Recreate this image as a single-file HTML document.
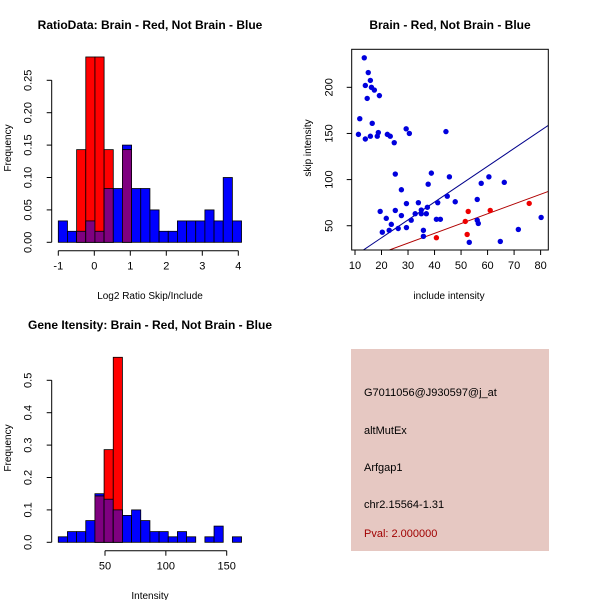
<!DOCTYPE html>
<html><head><meta charset="utf-8">
<style>
html,body{margin:0;padding:0;background:#fff;}
svg{display:block;font-family:"Liberation Sans",Arial,sans-serif;}
</style></head>
<body>
<svg id="chart" width="600" height="600" viewBox="0 0 600 600" xmlns="http://www.w3.org/2000/svg">
<rect x="0" y="0" width="600" height="600" fill="#fff"/>
<g id="p1"></g>
<g id="p2"></g>
<g id="p3"></g>
<g id="p4">
  <rect x="351" y="349" width="198" height="202" fill="#e6c8c2"/>
  <text x="364" y="396" font-size="11" fill="#000">G7011056@J930597@j_at</text>
  <text x="364" y="434" font-size="11" fill="#000">altMutEx</text>
  <text x="364" y="471" font-size="11" fill="#000">Arfgap1</text>
  <text x="364" y="508" font-size="11" fill="#000">chr2.15564-1.31</text>
  <text x="364" y="537" font-size="11" fill="#a00000">Pval: 2.000000</text>
</g>
</svg>
<script>
// ---- Panel 1 data: RatioData histogram ----
const ratioBinStart = -1;
const ratioBinWidth = 0.2545;
const ratioBlue = [0.033,0.017,0.017,0.033,0.017,0.083,0.083,0.15,0.083,0.083,0.05,0.017,0.017,0.033,0.033,0.033,0.05,0.033,0.1,0.033];
const ratioRed  = [0,0,0.143,0.286,0.286,0.143,0,0.143,0,0,0,0,0,0,0,0,0,0,0,0];
const ratioXTicks = [-1,0,1,2,3,4];
const ratioYTicks = ["0.00","0.05","0.10","0.15","0.20","0.25"];

// ---- Panel 2 data: scatter ----
const blueInclude = [13.5,11.8,11.3,13.9,13.9,15,14.6,15.8,16.2,17.3,19.2,16.5,15.8,18.4,18.8,22.2,23.3,24.8,29.3,30.5,44.3,25.2,27.5,38.8,37.6,45.6,60.5,57.6,66.3,19.5,25.2,21.8,27.5,29.4,33.9,32.7,35,37.3,36.9,35,41.2,44.8,47.8,56.1,31.2,40.7,42.2,20.3,22.9,23.7,26.3,29.4,35.8,35.8,56.1,56.5,53.1,64.8,71.6,80.2];
const blueSkip    = [232,166,149,144,202,216,188,207.5,200,197,191,161,147,147,151,149,147,140,155,150,152,106,89,107,95,103,103,96,97,65.5,66.6,58,61,74,75,63,67,70,63,63,75,82,76,78.5,56,57,57,43,45,51.5,47,48,45,38.5,56,52.5,32,33,46,59];
const redInclude  = [40.7,52.3,52.7,51.6,61,75.7];
const redSkip     = [37,40.6,65.5,54.7,66.6,74.2];
const blueFit = [-1.8, 1.937];   // intercept, slope
const redFit  = [-0.6, 1.059];
const scatterXTicks = [10,20,30,40,50,60,70,80];
const scatterYTicks = [50,100,150,200];

// ---- Panel 3 data: Gene intensity histogram ----
const intBinStart = 11.6;
const intBinWidth = 7.53;
const intBlue = [0.017,0.033,0.033,0.067,0.15,0.133,0.1,0.083,0.1,0.067,0.033,0.033,0.017,0.033,0.017,0,0.017,0.05,0,0.017];
const intRed  = [0,0,0,0,0.143,0.286,0.571,0,0,0,0,0,0,0,0,0,0,0,0,0];
const intXTicks = [50,100,150];
const intYTicks = ["0.0","0.1","0.2","0.3","0.4","0.5"];

const NS = "http://www.w3.org/2000/svg";
function mk(parent, tag, attrs, text){
  const e = document.createElementNS(NS, tag);
  for (const k in attrs) e.setAttribute(k, attrs[k]);
  if (text !== undefined) e.textContent = text;
  parent.appendChild(e);
  return e;
}
const BLUE="#0000ff", RED="#ff0000", PURPLE="#7f0080";

function histogram(g, cfg){
  const sx = v => cfg.x0 + (v - cfg.d0) * cfg.kx;
  const sy = v => cfg.y0 - v * cfg.ky;
  const n = cfg.blue.length;
  for (let i=0;i<n;i++){
    const a = cfg.start + i*cfg.width, b = a + cfg.width;
    const bv = cfg.blue[i], rv = cfg.red[i];
    if (bv>0){
      const r = mk(g,"rect",{x:sx(a),y:sy(bv),width:sx(b)-sx(a),height:sy(0)-sy(bv),fill:BLUE,stroke:"#000","stroke-width":0.8});
      
      
    }
    if (rv>0){
      const r = mk(g,"rect",{x:sx(a),y:sy(rv),width:sx(b)-sx(a),height:sy(0)-sy(rv),fill:RED,stroke:"#000","stroke-width":0.8});
      
      
    }
    const m = Math.min(bv, rv);
    if (m>0){
      const r = mk(g,"rect",{x:sx(a),y:sy(m),width:sx(b)-sx(a),height:sy(0)-sy(m),fill:PURPLE,stroke:"#000","stroke-width":0.8});
      
      
    }
  }
  const xt = cfg.xticks;
  const xa = mk(g,"line",{x1:sx(xt[0]),x2:sx(xt[xt.length-1]),y1:cfg.axY,y2:cfg.axY,stroke:"#000"});
  
  
  xt.forEach(t=>{
    mk(g,"line",{x1:sx(t),x2:sx(t),y1:cfg.axY,y2:cfg.axY+5,stroke:"#000"});
    const l = mk(g,"text",{x:sx(t),y:cfg.axY+19,"font-size":11,"text-anchor":"middle"},String(t));
    
    
  });
  const yt = cfg.yticks;
  const ya = mk(g,"line",{x1:cfg.axX,x2:cfg.axX,y1:sy(+yt[0]),y2:sy(+yt[yt.length-1]),stroke:"#000"});
  
  
  yt.forEach(t=>{
    const y = sy(+t);
    mk(g,"line",{x1:cfg.axX-5,x2:cfg.axX,y1:y,y2:y,stroke:"#000"});
    const l = mk(g,"text",{x:0,y:0,"font-size":11,"text-anchor":"middle",transform:`translate(${cfg.axX-20},${y}) rotate(-90)`},t);
    
    
  });
}

// Panel 1
const p1 = document.getElementById("p1");
histogram(p1,{x0:58.3,d0:-1,kx:36,y0:242.3,ky:648,start:ratioBinStart,width:ratioBinWidth,blue:ratioBlue,red:ratioRed,xticks:ratioXTicks,yticks:ratioYTicks,axY:250.7,axX:51.7});
mk(p1,"text",{x:150,y:29,"font-size":12,"font-weight":"bold","text-anchor":"middle",},"RatioData: Brain - Red, Not Brain - Blue");
mk(p1,"text",{x:150,y:299,"font-size":10,"text-anchor":"middle",},"Log2 Ratio Skip/Include");
mk(p1,"text",{x:0,y:0,"font-size":10,"text-anchor":"middle",transform:"translate(11,148) rotate(-90)",},"Frequency");

// Panel 2
const p2 = document.getElementById("p2");
(function(){
  const L=351.7,R=548.3,T=49.3,B=250;
  const xd0=8.76,xd1=82.9,yd0=23.7,yd1=241.2;
  const sx = v => L + (v-xd0)/(xd1-xd0)*(R-L);
  const sy = v => B - (v-yd0)/(yd1-yd0)*(B-T);
  const defs = mk(p2,"defs",{});
  const cp = mk(defs,"clipPath",{id:"clip2"});
  mk(cp,"rect",{x:L,y:T,width:R-L,height:B-T});
  const fits=[[blueFit,"#00008b","blue-fit-line"],[redFit,"#b00000","red-fit-line"]];
  fits.forEach(([f,c,n])=>{
    const ln = mk(p2,"line",{x1:sx(xd0),y1:sy(f[0]+f[1]*xd0),x2:sx(xd1),y2:sy(f[0]+f[1]*xd1),stroke:c,"stroke-width":1,"clip-path":"url(#clip2)"});
    
    
  });
  blueInclude.forEach((x,i)=>{
    const c = mk(p2,"circle",{cx:sx(x),cy:sy(blueSkip[i]),r:2.7,fill:"#0000dd"});
    
    
  });
  redInclude.forEach((x,i)=>{
    const c = mk(p2,"circle",{cx:sx(x),cy:sy(redSkip[i]),r:2.7,fill:"#ee0000"});
    
    
  });
  mk(p2,"rect",{x:L,y:T,width:R-L,height:B-T,fill:"none",stroke:"#000",});
  scatterXTicks.forEach(t=>{
    mk(p2,"line",{x1:sx(t),x2:sx(t),y1:B,y2:B+5,stroke:"#000"});
    const l = mk(p2,"text",{x:sx(t),y:B+19,"font-size":11,"text-anchor":"middle"},String(t));
    
    
  });
  scatterYTicks.forEach(t=>{
    mk(p2,"line",{x1:L-5,x2:L,y1:sy(t),y2:sy(t),stroke:"#000"});
    const l = mk(p2,"text",{x:0,y:0,"font-size":11,"text-anchor":"middle",transform:`translate(${L-19},${sy(t)}) rotate(-90)`},String(t));
    
    
  });
})();
mk(p2,"text",{x:450,y:29,"font-size":12,"font-weight":"bold","text-anchor":"middle",},"Brain - Red, Not Brain - Blue");
mk(p2,"text",{x:449,y:299,"font-size":10,"text-anchor":"middle",},"include intensity");
mk(p2,"text",{x:0,y:0,"font-size":10,"text-anchor":"middle",transform:"translate(311,148) rotate(-90)",},"skip intensity");

// Panel 3
const p3 = document.getElementById("p3");
histogram(p3,{x0:105,d0:50,kx:1.217,y0:542.3,ky:324,start:intBinStart,width:intBinWidth,blue:intBlue,red:intRed,xticks:intXTicks,yticks:intYTicks,axY:550.7,axX:51.7});
mk(p3,"text",{x:150,y:329,"font-size":12,"font-weight":"bold","text-anchor":"middle",},"Gene Itensity: Brain - Red, Not Brain - Blue");
mk(p3,"text",{x:150,y:599,"font-size":10,"text-anchor":"middle",},"Intensity");
mk(p3,"text",{x:0,y:0,"font-size":10,"text-anchor":"middle",transform:"translate(11,448) rotate(-90)",},"Frequency");
</script>
</body></html>
